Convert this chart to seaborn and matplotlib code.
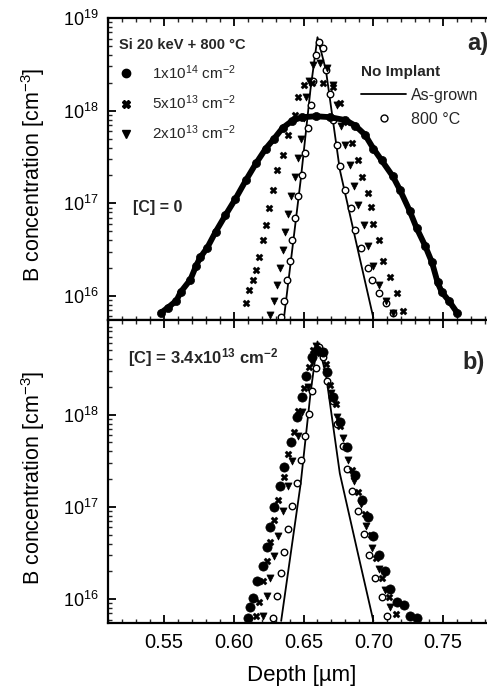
import numpy as np
import pandas as pd
import matplotlib
matplotlib.use("Agg")
import matplotlib.pyplot as plt
import seaborn as sns
from matplotlib.ticker import LogLocator, MultipleLocator, FixedLocator, NullFormatter
from matplotlib.lines import Line2D

# ---------------- data ----------------
# Panel a) [C] = 0
a_d_1e14 = [0.548, 0.553, 0.559, 0.562, 0.569, 0.573, 0.576, 0.581, 0.587, 0.594, 0.601, 0.609,
            0.616, 0.623, 0.629, 0.635, 0.642, 0.649, 0.659, 0.669, 0.680, 0.687, 0.694, 0.700,
            0.706, 0.714, 0.719, 0.726, 0.731, 0.737, 0.742, 0.746, 0.749, 0.754, 0.760]
a_c_1e14 = [6.6e15, 7.5e15, 8.9e15, 1.1e16, 1.5e16, 2.1e16, 2.6e16, 3.3e16, 4.9e16, 7.4e16, 1.1e17, 1.8e17,
            2.7e17, 3.9e17, 5.0e17, 6.5e17, 7.8e17, 8.5e17, 8.7e17, 8.5e17, 7.9e17, 6.9e17, 5.5e17, 3.9e17,
            2.9e17, 1.95e17, 1.4e17, 8.3e16, 5.4e16, 3.5e16, 2.3e16, 1.4e16, 1.1e16, 8.9e15, 6.6e15]
a_d_5e13 = [0.609, 0.611, 0.614, 0.616, 0.618, 0.621, 0.623, 0.625, 0.628, 0.631, 0.635, 0.639, 0.644,
            0.646, 0.650, 0.656, 0.664, 0.671, 0.676, 0.681, 0.685, 0.689, 0.692, 0.696, 0.698, 0.700,
            0.704, 0.707, 0.712, 0.717, 0.721]
a_c_5e13 = [8.3e15, 1.15e16, 1.5e16, 1.9e16, 2.6e16, 4.0e16, 5.8e16, 8.9e16, 1.4e17, 2.3e17, 3.3e17, 5.5e17,
            8.9e17, 1.4e18, 1.9e18, 2.0e18, 2.0e18, 1.8e18, 1.2e18, 7.6e17, 4.5e17, 2.9e17, 1.9e17, 1.3e17,
            9.1e16, 6.0e16, 4.0e16, 2.4e16, 1.6e16, 1.07e16, 6.9e15]
a_d_2e13 = [0.626, 0.629, 0.631, 0.633, 0.635, 0.637, 0.639, 0.641, 0.644, 0.646, 0.648, 0.650, 0.652,
            0.654, 0.657, 0.662, 0.667, 0.671, 0.674, 0.677, 0.680, 0.683, 0.686, 0.689, 0.693, 0.696,
            0.700, 0.704, 0.709, 0.714]
a_c_2e13 = [6.2e15, 8.9e15, 1.3e16, 2.0e16, 3.1e16, 4.9e16, 7.6e16, 1.2e17, 1.9e17, 3.1e17, 5.0e17, 8.3e17,
            1.4e18, 2.1e18, 3.1e18, 3.3e18, 2.9e18, 1.9e18, 1.15e18, 6.9e17, 4.3e17, 2.6e17, 1.55e17, 9.5e16,
            5.8e16, 3.5e16, 2.1e16, 1.3e16, 8.9e15, 6.6e15]
a_d_800 = [0.634, 0.636, 0.638, 0.640, 0.642, 0.644, 0.646, 0.649, 0.651, 0.653, 0.655, 0.657, 0.659,
           0.661, 0.664, 0.666, 0.669, 0.671, 0.674, 0.676, 0.680, 0.684, 0.687, 0.691, 0.696, 0.699,
           0.704, 0.709, 0.714]
a_c_800 = [5.9e15, 8.9e15, 1.5e16, 2.4e16, 4.0e16, 6.9e16, 1.2e17, 2.0e17, 3.5e17, 6.5e17, 1.15e18, 2.1e18,
           4.0e18, 5.5e18, 4.8e18, 2.75e18, 1.5e18, 7.9e17, 4.3e17, 2.5e17, 1.4e17, 8.9e16, 5.1e16, 3.3e16,
           2.0e16, 1.5e16, 1.07e16, 8.3e15, 6.6e15]
a_d_grown = [0.636, 0.648, 0.655, 0.660, 0.666, 0.676, 0.689, 0.700]
a_c_grown = [5.8e15, 1.8e17, 1.7e18, 6.2e18, 2.75e18, 2.3e17, 3.1e16, 5.8e15]

# Panel b) [C] = 3.4x10^13 cm^-2
b_d_1e14 = [0.610, 0.612, 0.614, 0.617, 0.621, 0.624, 0.626, 0.629, 0.633, 0.636, 0.641, 0.645, 0.649,
            0.652, 0.656, 0.660, 0.664, 0.667, 0.671, 0.676, 0.681, 0.687, 0.692, 0.696, 0.700, 0.704,
            0.708, 0.712, 0.717, 0.722, 0.726, 0.731]
b_c_1e14 = [6.2e15, 8.3e15, 1.02e16, 1.55e16, 2.3e16, 3.7e16, 6.0e16, 1.0e17, 1.7e17, 2.7e17, 5.0e17, 9.3e17,
            1.55e18, 2.6e18, 4.2e18, 5.0e18, 4.8e18, 2.9e18, 1.55e18, 8.3e17, 4.5e17, 2.2e17, 1.2e17, 7.8e16,
            4.8e16, 3.0e16, 2.0e16, 1.3e16, 9.3e15, 8.7e15, 6.6e15, 6.2e15]
b_d_5e13 = [0.616, 0.618, 0.621, 0.624, 0.626, 0.629, 0.632, 0.636, 0.639, 0.643, 0.646, 0.650, 0.654,
            0.657, 0.662, 0.666, 0.669, 0.673, 0.676, 0.681, 0.685, 0.689, 0.694, 0.698, 0.702, 0.706,
            0.711, 0.716]
b_c_5e13 = [6.5e15, 9.3e15, 1.55e16, 2.6e16, 4.2e16, 7.2e16, 1.2e17, 2.1e17, 3.7e17, 6.5e17, 1.1e18, 1.95e18,
            3.3e18, 5.0e18, 4.6e18, 3.5e18, 2.1e18, 1.3e18, 7.6e17, 4.4e17, 2.5e17, 1.45e17, 8.3e16, 4.9e16,
            2.8e16, 1.7e16, 1.05e16, 6.9e15]
b_d_2e13 = [0.621, 0.624, 0.626, 0.629, 0.632, 0.635, 0.639, 0.642, 0.646, 0.649, 0.653, 0.656, 0.659,
            0.663, 0.666, 0.670, 0.674, 0.678, 0.682, 0.686, 0.691, 0.695, 0.699, 0.704, 0.708, 0.712]
b_c_2e13 = [6.5e15, 1.07e16, 1.7e16, 2.9e16, 4.8e16, 8.9e16, 1.7e17, 3.1e17, 5.8e17, 1.07e18, 2.0e18, 3.7e18,
            5.6e18, 4.8e18, 2.9e18, 1.7e18, 9.5e17, 5.6e17, 3.2e17, 1.9e17, 1.07e17, 6.2e16, 3.6e16, 2.1e16,
            1.26e16, 8.1e15]
b_d_800 = [0.628, 0.631, 0.634, 0.636, 0.639, 0.642, 0.645, 0.648, 0.651, 0.654, 0.656, 0.659, 0.661,
           0.664, 0.667, 0.671, 0.674, 0.678, 0.681, 0.685, 0.689, 0.693, 0.697, 0.701, 0.706, 0.710]
b_c_800 = [6.2e15, 1.07e16, 1.9e16, 3.2e16, 5.8e16, 1.02e17, 1.8e17, 3.2e17, 5.8e17, 1.02e18, 1.8e18, 3.2e18,
           5.4e18, 4.2e18, 2.3e18, 1.4e18, 7.9e17, 4.6e17, 2.6e17, 1.5e17, 8.9e16, 5.1e16, 3.0e16, 1.7e16,
           1.05e16, 6.6e15]
b_d_grown = [0.634, 0.648, 0.655, 0.660, 0.666, 0.676, 0.689, 0.700]
b_c_grown = [5.8e15, 1.8e17, 1.7e18, 6.2e18, 2.75e18, 2.3e17, 3.1e16, 5.8e15]

dose_labels = ["1x10$^{14}$ cm$^{-2}$", "5x10$^{13}$ cm$^{-2}$", "2x10$^{13}$ cm$^{-2}$"]
ref_labels = ["As-grown", "800 °C"]
x_ticks = [0.55, 0.60, 0.65, 0.70, 0.75]
x_tick_labels = ["0.55", "0.60", "0.65", "0.70", "0.75"]

# ---------------- style ----------------
sns.set_theme(style="ticks")
plt.rcParams['font.family'] = ['Liberation Sans', 'DejaVu Sans']
plt.rcParams['mathtext.fontset'] = 'custom'
plt.rcParams['mathtext.rm'] = 'Liberation Sans'
plt.rcParams['mathtext.it'] = 'Liberation Sans:italic'
plt.rcParams['mathtext.bf'] = 'Liberation Sans:bold'
plt.rcParams['mathtext.default'] = 'regular'

fig = plt.figure(figsize=(4.87, 6.90), dpi=100)
W, H = 487.0, 690.0
x0, x1 = 108, 513
ax_a = fig.add_axes([x0 / W, 1 - 320 / H, (x1 - x0) / W, 302 / H])
ax_b = fig.add_axes([x0 / W, 1 - 623 / H, (x1 - x0) / W, 303 / H])


def draw_panel(ax, d1, c1, d2, c2, d3, c3, d4, c4, dg, cg, broad_line):
    df1 = pd.DataFrame({"depth": d1, "conc": c1})
    df2 = pd.DataFrame({"depth": d2, "conc": c2})
    df3 = pd.DataFrame({"depth": d3, "conc": c3})
    df4 = pd.DataFrame({"depth": d4, "conc": c4})
    dfg = pd.DataFrame({"depth": dg, "conc": cg})
    sns.lineplot(data=dfg, x="depth", y="conc", color="black", lw=1.3, sort=False,
                 estimator=None, ax=ax, zorder=2)
    sns.scatterplot(data=df4, x="depth", y="conc", marker="o", s=22, facecolor="white",
                    edgecolor="black", linewidth=1.0, ax=ax, zorder=3)
    sns.scatterplot(data=df3, x="depth", y="conc", marker="v", s=26, color="black",
                    edgecolor="black", linewidth=0.5, ax=ax, zorder=4)
    sns.scatterplot(data=df2, x="depth", y="conc", marker="X", s=26, color="black",
                    edgecolor="black", linewidth=0.3, ax=ax, zorder=4)
    if broad_line:
        sns.lineplot(data=df1, x="depth", y="conc", color="black", lw=4.2, sort=False,
                     estimator=None, ax=ax, zorder=4)
        s1 = 34
    else:
        s1 = 44
    sns.scatterplot(data=df1, x="depth", y="conc", marker="o", s=s1, color="black",
                    edgecolor="black", linewidth=0.5, ax=ax, zorder=5)


draw_panel(ax_a, a_d_1e14, a_c_1e14, a_d_5e13, a_c_5e13, a_d_2e13, a_c_2e13,
           a_d_800, a_c_800, a_d_grown, a_c_grown, True)
draw_panel(ax_b, b_d_1e14, b_c_1e14, b_d_5e13, b_c_5e13, b_d_2e13, b_c_2e13,
           b_d_800, b_c_800, b_d_grown, b_c_grown, False)

for ax, yt, ytop in [(ax_a, [1e16, 1e17, 1e18, 1e19], 1.0e19), (ax_b, [1e16, 1e17, 1e18], 1.06e19)]:
    ax.set_yscale("log")
    ax.set_ylim(5.5e15, ytop)
    ax.set_xlim(0.51, 0.80)
    ax.yaxis.set_major_locator(FixedLocator(yt))
    ax.yaxis.set_minor_locator(LogLocator(base=10, subs=np.arange(2, 10)))
    ax.yaxis.set_minor_formatter(NullFormatter())
    ax.set_yticklabels(["10$^{%d}$" % int(round(np.log10(v))) for v in yt])
    ax.xaxis.set_major_locator(FixedLocator(x_ticks))
    ax.xaxis.set_minor_locator(MultipleLocator(0.01))
    ax.tick_params(which="major", direction="in", length=6, width=1.3, top=True, right=True,
                   pad=7, colors="black")
    ax.tick_params(axis="y", which="major", labelsize=13)
    ax.tick_params(axis="x", which="major", labelsize=14.5)
    ax.tick_params(which="minor", direction="in", length=3, width=1.0, top=True, right=True)
    for sp in ax.spines.values():
        sp.set_linewidth(1.6)
        sp.set_color("black")
    ax.set_ylabel("B concentration [cm$^{-3}$]", fontsize=15.5, color="black")
    ax.yaxis.set_label_coords(-0.15, 0.48)

ax_a.tick_params(labelbottom=False)
ax_a.set_xlabel("")
ax_b.set_xticklabels(x_tick_labels)
ax_b.set_xlabel("Depth [µm]", fontsize=16, color="black")
ax_b.xaxis.set_label_coords(0.479, -0.14)

# legends
h_dose = [Line2D([], [], ls="none", marker="o", ms=6, color="black"),
          Line2D([], [], ls="none", marker="X", ms=5.5, color="black"),
          Line2D([], [], ls="none", marker="v", ms=5.5, color="black")]
leg1 = ax_a.legend(h_dose, dose_labels, title="Si 20 keV + 800 °C", loc="upper left",
                   bbox_to_anchor=(0.0, 0.97), frameon=False, fontsize=11, handlelength=1.0,
                   handletextpad=1.2, labelspacing=0.75, borderaxespad=0.3,
                   title_fontproperties={"weight": "bold", "size": 10.5})
leg1._legend_box.align = "left"
ax_a.add_artist(leg1)
h_ref = [Line2D([], [], color="black", lw=1.3),
         Line2D([], [], ls="none", marker="o", ms=5, mfc="white", mec="black", mew=1.0)]
leg2 = ax_a.legend(h_ref, ref_labels, title="No Implant", loc="upper left",
                   bbox_to_anchor=(0.61, 0.865), frameon=False, fontsize=11.5, handlelength=2.8,
                   handletextpad=0.3, labelspacing=0.55, borderaxespad=0.0,
                   title_fontproperties={"weight": "bold", "size": 11})
leg2._legend_box.align = "left"

ax_a.text(0.062, 0.371, "[C] = 0", transform=ax_a.transAxes, fontsize=11.5,
          fontweight="bold", va="center", ha="left")
ax_a.text(0.886, 0.914, "a)", transform=ax_a.transAxes, fontsize=17,
          fontweight="bold", va="center", ha="left")
ax_b.text(0.049, 0.875, "[C] = 3.4x10$^{13}$ cm$^{-2}$", transform=ax_b.transAxes,
          fontsize=12, fontweight="bold", va="center", ha="left")
ax_b.text(0.874, 0.861, "b)", transform=ax_b.transAxes, fontsize=17,
          fontweight="bold", va="center", ha="left")

fig.savefig("out.png", dpi=100)
